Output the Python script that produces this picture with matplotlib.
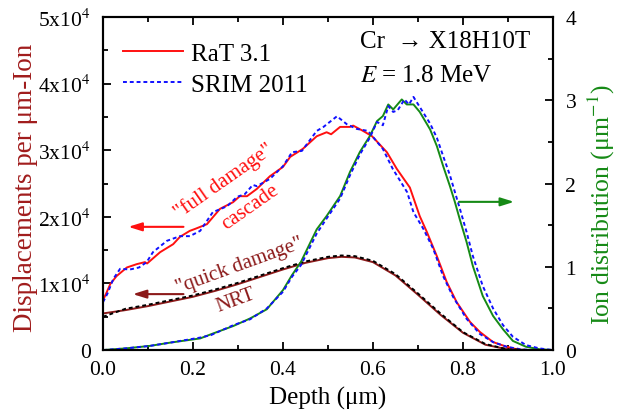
import numpy as np
import matplotlib
matplotlib.use('Agg')
import matplotlib.pyplot as plt
from matplotlib.ticker import MultipleLocator, FuncFormatter

plt.rcParams['font.family'] = ['Liberation Serif', 'DejaVu Serif']
plt.rcParams['mathtext.fontset'] = 'stix'

# full damage cascade, displacements (x10^4 per um-ion)
d_full_rat = [0, 0.007, 0.016, 0.03, 0.053, 0.075, 0.093, 0.098, 0.127, 0.156,
              0.171, 0.193, 0.205, 0.231, 0.26, 0.289, 0.304, 0.32, 0.342, 0.371,
              0.4, 0.416, 0.444, 0.475, 0.497, 0.507, 0.527, 0.549, 0.556, 0.578,
              0.598, 0.631, 0.653, 0.682, 0.704, 0.72, 0.742, 0.764, 0.786, 0.816,
              0.838, 0.867, 0.897, 0.927, 0.96, 1.0]
full_rat = [0.75, 0.85, 0.99, 1.11, 1.24, 1.29, 1.32, 1.30, 1.47, 1.59,
            1.70, 1.79, 1.82, 1.89, 2.12, 2.22, 2.31, 2.31, 2.42, 2.61,
            2.75, 2.9, 3.02, 3.21, 3.27, 3.24, 3.35, 3.35, 3.37, 3.29,
            3.21, 2.97, 2.72, 2.44, 2.01, 1.77, 1.41, 1.02, 0.72, 0.42,
            0.27, 0.12, 0.05, 0.0, 0.0, 0.0]

d_full_srim = [0, 0.01, 0.023, 0.038, 0.06, 0.08, 0.097, 0.111, 0.142, 0.171,
               0.193, 0.216, 0.244, 0.276, 0.298, 0.315, 0.333, 0.342, 0.371, 0.4,
               0.42, 0.442, 0.475, 0.49, 0.52, 0.542, 0.564, 0.589, 0.622, 0.644,
               0.676, 0.69, 0.712, 0.734, 0.756, 0.778, 0.808, 0.838, 0.867, 0.897,
               0.93, 0.96, 1.0]
full_srim = [0.72, 0.85, 1.07, 1.22, 1.21, 1.24, 1.32, 1.47, 1.64, 1.71,
             1.71, 1.79, 2.07, 2.16, 2.30, 2.34, 2.48, 2.46, 2.57, 2.76,
             2.97, 2.99, 3.29, 3.35, 3.51, 3.39, 3.32, 3.29, 3.02, 2.72,
             2.37, 2.07, 1.82, 1.52, 1.11, 0.80, 0.47, 0.24, 0.12, 0.05,
             0.01, 0.0, 0.0]

# quick damage (NRT)
d_nrt = [0, 0.05, 0.1, 0.15, 0.2, 0.25, 0.3, 0.35, 0.4, 0.45, 0.5, 0.53, 0.56,
         0.6, 0.65, 0.7, 0.75, 0.8, 0.85, 0.9, 0.95, 1.0]
nrt_rat = [0.55, 0.6, 0.66, 0.73, 0.8, 0.89, 0.99, 1.1, 1.21, 1.31, 1.38, 1.40, 1.39,
           1.32, 1.12, 0.83, 0.53, 0.26, 0.08, 0.01, 0.0, 0.0]
nrt_srim = [0.50, 0.62, 0.68, 0.75, 0.82, 0.91, 1.01, 1.12, 1.23, 1.33, 1.40, 1.42, 1.41,
            1.34, 1.14, 0.85, 0.55, 0.27, 0.09, 0.01, 0.0, 0.0]

# ion distribution (um^-1)
d_ion_rat = [0, 0.05, 0.104, 0.15, 0.216, 0.24, 0.29, 0.327, 0.364, 0.4,
             0.42, 0.44, 0.475, 0.497, 0.527, 0.549, 0.571, 0.593, 0.609, 0.622,
             0.634, 0.645, 0.664, 0.675, 0.69, 0.704, 0.727, 0.742, 0.756, 0.771,
             0.782, 0.793, 0.808, 0.822, 0.844, 0.867, 0.889, 0.911, 0.94, 0.97, 1.0]
ion_rat = [0, 0.02, 0.05, 0.09, 0.14, 0.19, 0.29, 0.38, 0.49, 0.72,
           0.9, 1.06, 1.45, 1.61, 1.85, 2.14, 2.38, 2.57, 2.75, 2.81,
           2.95, 2.89, 3.01, 2.95, 2.95, 2.86, 2.65, 2.45, 2.21, 1.97,
           1.78, 1.57, 1.30, 1.01, 0.65, 0.41, 0.25, 0.11, 0.04, 0.01, 0]

d_ion_srim = [0, 0.05, 0.104, 0.15, 0.216, 0.24, 0.29, 0.327, 0.364, 0.4,
              0.42, 0.44, 0.475, 0.497, 0.527, 0.549, 0.571, 0.593, 0.609, 0.622,
              0.634, 0.645, 0.655, 0.67, 0.68, 0.69, 0.704, 0.727, 0.742, 0.756,
              0.771, 0.782, 0.793, 0.808, 0.822, 0.844, 0.867, 0.889, 0.911, 0.94,
              0.97, 1.0]
ion_srim = [0, 0.02, 0.05, 0.09, 0.15, 0.18, 0.3, 0.37, 0.5, 0.7,
            0.88, 1.02, 1.40, 1.58, 1.82, 2.10, 2.35, 2.55, 2.74, 2.70,
            2.93, 2.86, 2.88, 3.01, 2.95, 3.04, 2.92, 2.72, 2.55, 2.33,
            2.10, 1.90, 1.70, 1.42, 1.13, 0.77, 0.50, 0.30, 0.16, 0.06,
            0.02, 0]

red = '#ff1010'
blue = '#1010ff'
maroon = '#8c1a1a'
green = '#168a16'

fig = plt.figure(figsize=(6.18, 4.14), dpi=100)
ax = fig.add_axes([0.1667, 0.152, 0.728, 0.8045])
ax2 = ax.twinx()

ax.plot(d_full_rat, full_rat, color=red, lw=1.4, label='RaT 3.1')
ax.plot(d_full_srim, full_srim, color=blue, lw=1.4, ls=(0, (2, 1.5)), label='SRIM 2011')
ax.plot(d_nrt, nrt_rat, color=maroon, lw=1.4)
ax.plot(d_nrt, nrt_srim, color='black', lw=1.4, ls=(0, (2, 1.5)))
ax2.plot(d_ion_rat, ion_rat, color=green, lw=1.4)
ax2.plot(d_ion_srim, ion_srim, color=blue, lw=1.4, ls=(0, (2, 1.5)))

ax.set_xlim(0, 1)
ax.set_ylim(0, 5)
ax2.set_ylim(0, 4)

ax.xaxis.set_major_locator(MultipleLocator(0.2))
ax.xaxis.set_minor_locator(MultipleLocator(0.1))
ax.yaxis.set_major_locator(MultipleLocator(1))
ax.yaxis.set_minor_locator(MultipleLocator(0.5))
ax2.yaxis.set_major_locator(MultipleLocator(1))
ax2.yaxis.set_minor_locator(MultipleLocator(0.5))

def fmt_left(v, pos):
    if v == 0:
        return '0'
    return '%dx10$^{4}$' % int(round(v))

ax.yaxis.set_major_formatter(FuncFormatter(fmt_left))
ax.xaxis.set_major_formatter(FuncFormatter(lambda v, p: '%.1f' % v))
ax2.yaxis.set_major_formatter(FuncFormatter(lambda v, p: '%d' % int(round(v))))

ax.tick_params(which='both', direction='in', top=True, labelsize=15.5, width=1.3)
ax.tick_params(which='major', length=6)
ax.tick_params(which='minor', length=3.5)
ax.tick_params(axis='x', which='major', pad=7)
ax.tick_params(axis='y', which='major', pad=9)
ax2.tick_params(which='both', direction='in', labelsize=15.5, width=1.3)
ax2.tick_params(which='major', length=6, pad=9)
ax2.tick_params(which='minor', length=3.5)
for a in (ax, ax2):
    for s in a.spines.values():
        s.set_linewidth(1.5)

ax.set_xlabel('Depth (\u03bcm)', fontsize=18, labelpad=5)
ax.set_ylabel('Displacements per \u03bcm-Ion', fontsize=19.5, color='#a01c1c')
ax.yaxis.set_label_coords(-0.145, 0.49)
ax2.set_ylabel('Ion distribution (\u03bcm$^{-1}$)', fontsize=18.5, color=green)
ax2.yaxis.set_label_coords(1.074, 0.44)

ax.legend(loc='upper left', frameon=False, fontsize=18, handlelength=2.4,
          handletextpad=0.3, labelspacing=0.36, borderaxespad=0.4,
          bbox_to_anchor=(0.0, 0.985))

ax.text(0.572, 0.96, 'Cr  \u2192 X18H10T', transform=ax.transAxes, fontsize=18,
        va='top', ha='left')
ax.text(0.572, 0.858, '$E$ = 1.8 MeV', transform=ax.transAxes, fontsize=18,
        va='top', ha='left')

ax.text(0.268, 0.51, '"full damage"', transform=ax.transAxes, fontsize=15,
        color=red, rotation=35, ha='center', va='center', rotation_mode='anchor')
ax.text(0.327, 0.43, 'cascade', transform=ax.transAxes, fontsize=15,
        color=red, rotation=35, ha='center', va='center', rotation_mode='anchor')
ax.text(0.304, 0.255, '"quick damage"', transform=ax.transAxes, fontsize=15,
        color=maroon, rotation=20, ha='center', va='center', rotation_mode='anchor')
ax.text(0.296, 0.15, 'NRT', transform=ax.transAxes, fontsize=15,
        color=maroon, rotation=20, ha='center', va='center', rotation_mode='anchor')

arrow = dict(arrowstyle='-|>,head_length=0.8,head_width=0.25', lw=1.5)
ax.annotate('', xy=(0.05, 1.85), xytext=(0.185, 1.85),
            arrowprops=dict(arrow, color=red))
ax.annotate('', xy=(0.06, 0.84), xytext=(0.185, 0.84),
            arrowprops=dict(arrow, color=maroon))
ax2.annotate('', xy=(0.92, 1.78), xytext=(0.785, 1.78),
             arrowprops=dict(arrow, color=green))

fig.savefig('out.png', dpi=100)
